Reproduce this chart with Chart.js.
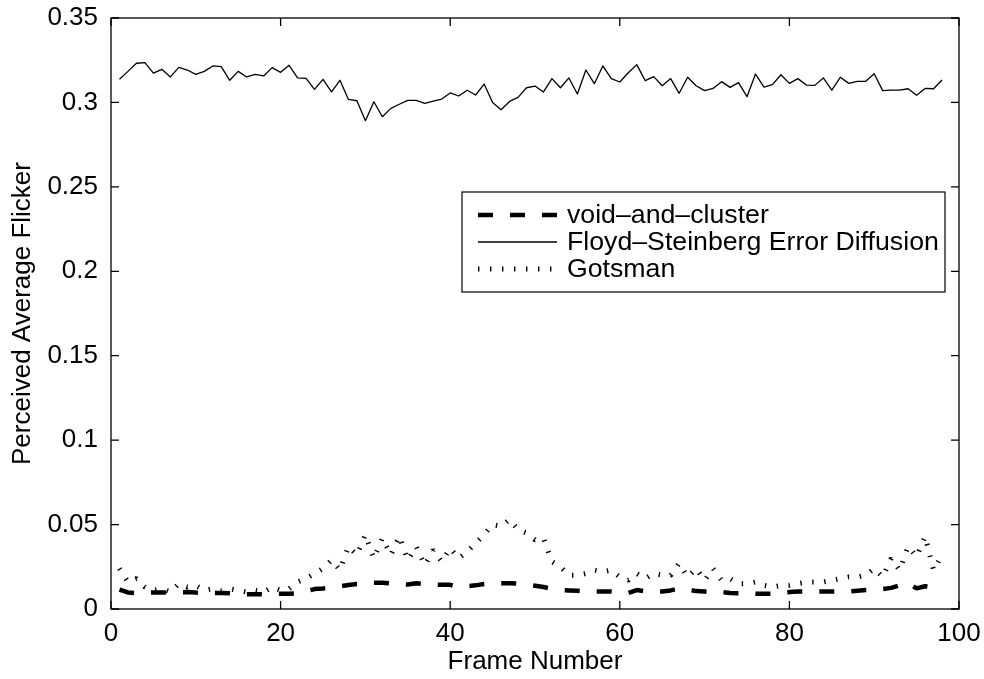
<!DOCTYPE html>
<html><head><meta charset="utf-8">
<script src="https://cdn.jsdelivr.net/npm/chart.js@4/dist/chart.umd.min.js"></script>
<style>html,body{margin:0;padding:0;background:#fff;}#wrap{width:984px;height:679px;}</style>
</head><body><div id="wrap"><canvas id="c" width="984" height="679"></canvas></div>
<script>
const frames = [1,2,3,4,5,6,7,8,9,10,11,12,13,14,15,16,17,18,19,20,21,22,23,24,25,26,27,28,29,30,31,32,33,34,35,36,37,38,39,40,41,42,43,44,45,46,47,48,49,50,51,52,53,54,55,56,57,58,59,60,61,62,63,64,65,66,67,68,69,70,71,72,73,74,75,76,77,78,79,80,81,82,83,84,85,86,87,88,89,90,91,92,93,94,95,96,97,98];

const voidAndCluster = [0.0115,0.0098,0.0093,0.0095,0.0098,0.0098,0.0097,0.0099,0.0100,0.0097,
0.0096,0.0095,0.0095,0.0094,0.0092,0.0088,0.0088,0.0087,0.0090,0.0090,
0.0090,0.0092,0.0105,0.0118,0.0122,0.0128,0.0135,0.0142,0.0148,0.0150,
0.0155,0.0155,0.0152,0.0148,0.0145,0.0152,0.0148,0.0144,0.0143,0.0143,
0.0130,0.0135,0.0140,0.0148,0.0152,0.0153,0.0152,0.0150,0.0145,0.0138,
0.0130,0.0120,0.0112,0.0110,0.0108,0.0105,0.0104,0.0104,0.0104,0.0100,
0.0095,0.0112,0.0104,0.0102,0.0104,0.0110,0.0122,0.0115,0.0106,0.0104,
0.0104,0.0100,0.0095,0.0094,0.0093,0.0090,0.0090,0.0090,0.0092,0.0100,
0.0103,0.0103,0.0103,0.0103,0.0103,0.0103,0.0104,0.0108,0.0112,0.0115,
0.0118,0.0125,0.0140,0.0155,0.0122,0.0135,0.0128,0.0122];

const floydSteinberg = [0.3137,0.3184,0.3232,0.3236,0.3174,0.3196,0.3151,0.3208,0.3192,0.3166,
0.3184,0.3216,0.3212,0.3131,0.3184,0.3151,0.3166,0.3157,0.3206,0.3178,
0.3220,0.3145,0.3143,0.3077,0.3137,0.3062,0.3131,0.3018,0.3010,0.2892,
0.3004,0.2915,0.2965,0.2989,0.3012,0.3012,0.2995,0.3008,0.3020,0.3056,
0.3038,0.3072,0.3044,0.3109,0.3000,0.2957,0.3006,0.3030,0.3087,0.3097,
0.3062,0.3141,0.3087,0.3145,0.3050,0.3192,0.3111,0.3216,0.3141,0.3121,
0.3176,0.3224,0.3129,0.3153,0.3099,0.3141,0.3054,0.3149,0.3099,0.3070,
0.3083,0.3123,0.3089,0.3117,0.3034,0.3168,0.3091,0.3105,0.3164,0.3113,
0.3141,0.3103,0.3101,0.3145,0.3073,0.3149,0.3113,0.3125,0.3125,0.3170,
0.3070,0.3073,0.3073,0.3081,0.3042,0.3083,0.3081,0.3133];

const gotsman = [0.024,0.016,0.018,0.013,0.011,0.012,0.010,0.015,0.013,0.014,
0.011,0.012,0.011,0.012,0.011,0.010,0.011,0.010,0.013,0.011,
0.012,0.016,0.018,0.021,0.024,0.029,0.023,0.037,0.032,0.044,
0.030,0.042,0.032,0.043,0.029,0.037,0.026,0.035,0.028,0.036,
0.030,0.034,0.039,0.044,0.050,0.049,0.053,0.047,0.045,0.041,
0.042,0.028,0.025,0.020,0.020,0.021,0.023,0.022,0.023,0.019,
0.017,0.021,0.018,0.021,0.020,0.020,0.027,0.019,0.024,0.017,
0.024,0.017,0.018,0.015,0.015,0.016,0.014,0.013,0.014,0.014,
0.015,0.016,0.016,0.016,0.017,0.018,0.019,0.019,0.020,0.024,
0.019,0.030,0.023,0.037,0.031,0.043,0.023,0.032];

const seriesLabels = ['void\u2013and\u2013cluster', 'Floyd\u2013Steinberg Error Diffusion', 'Gotsman'];
const xTickValues = [0, 20, 40, 60, 80, 100];
const xTickLabels = ['0', '20', '40', '60', '80', '100'];
const yTickValues = [0, 0.05, 0.1, 0.15, 0.2, 0.25, 0.3, 0.35];
const yTickLabels = ['0', '0.05', '0.1', '0.15', '0.2', '0.25', '0.3', '0.35'];
const xTitle = 'Frame Number';
const yTitle = 'Perceived Average Flicker';

const FONT_FAMILY = "'Liberation Sans', Arial, Helvetica, sans-serif";
const FONT_SIZE = 26;
const LEGEND_FONT_SIZE = 26.7;

const framePlugin = {
  id: 'matlabFrame',
  afterDatasetsDraw(chart) {
    const {ctx, chartArea: a, scales: {x, y}} = chart;
    ctx.save();
    ctx.strokeStyle = '#000';
    ctx.lineWidth = 1.3;
    ctx.lineCap = 'butt';
    ctx.setLineDash([]);
    ctx.strokeRect(a.left, a.top, a.right - a.left, a.bottom - a.top);
    const L = 8;
    ctx.beginPath();
    x.ticks.forEach(t => {
      const px = x.getPixelForValue(t.value);
      ctx.moveTo(px, a.bottom); ctx.lineTo(px, a.bottom - L);
      ctx.moveTo(px, a.top); ctx.lineTo(px, a.top + L);
    });
    y.ticks.forEach(t => {
      const py = y.getPixelForValue(t.value);
      ctx.moveTo(a.left, py); ctx.lineTo(a.left + L, py);
      ctx.moveTo(a.right, py); ctx.lineTo(a.right - L, py);
    });
    ctx.stroke();

    // legend
    const box = {left: 462, top: 192, right: 945, bottom: 292};
    ctx.fillStyle = '#fff';
    ctx.fillRect(box.left, box.top, box.right - box.left, box.bottom - box.top);
    ctx.lineWidth = 1.2;
    ctx.strokeRect(box.left, box.top, box.right - box.left, box.bottom - box.top);
    const rows = [215, 242, 269];
    ctx.font = LEGEND_FONT_SIZE + 'px ' + FONT_FAMILY;
    ctx.textBaseline = 'middle';
    ctx.textAlign = 'left';
    chart.data.datasets.forEach((ds, i) => {
      const yy = rows[i];
      ctx.save();
      ctx.strokeStyle = ds.borderColor;
      ctx.lineWidth = ds.borderWidth;
      ctx.lineCap = 'butt';
      ctx.setLineDash(ds.borderDash || []);
      ctx.beginPath();
      ctx.moveTo(478, yy); ctx.lineTo(557, yy);
      ctx.stroke();
      ctx.restore();
      ctx.fillStyle = '#000';
      ctx.fillText(ds.label, 567, yy + 1);
    });
    ctx.restore();
  }
};

const tickFont = {family: FONT_FAMILY, size: FONT_SIZE};
const zeroPad = s => { s.paddingTop = 0; s.paddingBottom = 0; s.paddingLeft = 0; s.paddingRight = 0; };

new Chart(document.getElementById('c'), {
  type: 'line',
  data: {
    labels: frames,
    datasets: [
      {label: seriesLabels[0], data: voidAndCluster, borderColor: '#000', borderWidth: 4.5, borderDash: [15, 17], borderCapStyle: 'butt', borderJoinStyle: 'bevel', pointRadius: 0, fill: false, tension: 0},
      {label: seriesLabels[1], data: floydSteinberg, borderColor: '#000', borderWidth: 1.3, borderJoinStyle: 'round', pointRadius: 0, fill: false, tension: 0},
      {label: seriesLabels[2], data: gotsman, borderColor: '#000', borderWidth: 5, borderDash: [1.4, 10.6], borderCapStyle: 'butt', borderJoinStyle: 'bevel', pointRadius: 0, fill: false, tension: 0}
    ]
  },
  options: {
    responsive: false,
    animation: false,
    devicePixelRatio: 1,
    layout: {padding: {left: 0, right: 25, top: 18, bottom: 0}},
    plugins: {legend: {display: false}, tooltip: {enabled: false}},
    scales: {
      x: {
        type: 'linear', min: 0, max: 100,
        afterBuildTicks: s => { s.ticks = xTickValues.map(v => ({value: v})); },
        ticks: {callback: (v, i) => xTickLabels[i], font: tickFont, color: '#000', padding: 9, maxRotation: 0, autoSkip: false},
        grid: {display: false, drawTicks: false},
        border: {display: false},
        title: {display: true, text: xTitle, font: tickFont, color: '#000', padding: {top: 0, bottom: 2}},
        afterFit: s => { s.height = 70; zeroPad(s); }
      },
      y: {
        type: 'linear', min: 0, max: 0.35,
        afterBuildTicks: s => { s.ticks = yTickValues.map(v => ({value: v})); },
        ticks: {callback: (v, i) => yTickLabels[i], font: tickFont, color: '#000', padding: 13, autoSkip: false},
        grid: {display: false, drawTicks: false},
        border: {display: false},
        title: {display: true, text: yTitle, font: tickFont, color: '#000', padding: {top: 7, bottom: 0}},
        afterFit: s => { s.width = 111; zeroPad(s); }
      }
    }
  },
  plugins: [framePlugin]
});
</script>
</body></html>
